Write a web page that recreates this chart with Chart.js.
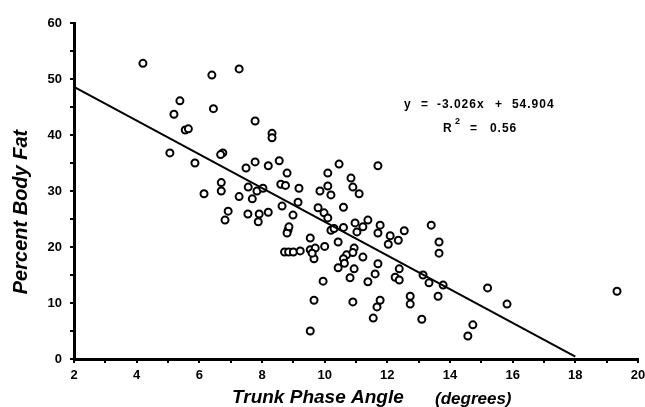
<!DOCTYPE html>
<html>
<head>
<meta charset="utf-8">
<script src="https://cdn.jsdelivr.net/npm/chart.js@4/dist/chart.umd.min.js"></script>
<style>
html,body{margin:0;padding:0;background:#fff;}
#c{display:block;}
</style>
</head>
<body>
<canvas id="c" width="645" height="407"></canvas>
<script>
// Trunk phase angle (degrees) for each subject
const phaseAngle = [
 4.2, 5.38, 5.19, 5.55, 5.65, 5.06, 5.86, 6.15, 6.4, 6.45,
 7.27, 7.78, 8.32, 8.32, 6.75, 6.68, 7.49, 7.78, 8.2, 8.55,
 8.8, 10.1, 10.46, 11.7, 10.84, 10.9, 11.1, 6.7, 6.7, 7.27,
 7.56, 7.84, 8.03, 8.6, 8.75, 9.18, 9.85, 10.1, 10.2, 7.69,
 6.92, 6.82, 7.55, 7.91, 8.2, 7.88, 8.64, 9.15, 8.99, 9.79,
 9.98, 10.6, 10.1, 10.2, 10.3, 8.83, 8.8, 9.54, 10.43, 10.6,
 10.97, 11.22, 11.38, 11.03, 11.77, 11.7, 12.09, 12.54, 12.35, 12.03,
 8.72, 8.85, 9.0, 9.22, 9.54, 9.7, 10.0, 9.66, 9.6, 10.7,
 10.6, 10.43, 10.94, 10.9, 11.22, 10.94, 10.81, 11.61, 11.7, 11.38,
 12.25, 12.38, 12.38, 9.95, 9.66, 10.9, 11.77, 11.67, 11.55, 9.54,
 12.73, 12.73, 13.4, 13.65, 13.65, 13.14, 13.33, 13.78, 13.62, 13.1,
 14.73, 14.57, 15.2, 15.82, 19.33, 10.63, 8.86
];
// Percent body fat for each subject
const bodyFat = [
 52.8, 46.1, 43.7, 40.9, 41.1, 36.8, 35.0, 29.5, 50.7, 44.7,
 51.8, 42.5, 40.3, 39.5, 36.8, 36.5, 34.1, 35.2, 34.5, 35.4,
 33.2, 33.2, 34.8, 34.5, 32.3, 30.7, 29.5, 31.5, 30.0, 29.0,
 30.7, 30.0, 30.5, 31.2, 31.0, 30.5, 30.0, 30.9, 29.3, 28.6,
 26.4, 24.8, 25.9, 25.9, 26.2, 24.5, 27.3, 28.0, 25.7, 27.0,
 26.1, 27.1, 25.2, 23.0, 23.3, 23.0, 22.5, 21.6, 20.9, 23.5,
 24.3, 23.6, 24.8, 22.7, 23.9, 22.5, 22.0, 22.9, 21.2, 20.5,
 19.1, 19.1, 19.1, 19.3, 19.5, 19.8, 20.1, 17.9, 18.9, 18.6,
 17.9, 16.3, 19.8, 19.0, 18.2, 16.1, 14.5, 15.2, 17.0, 13.8,
 14.6, 16.1, 14.1, 13.9, 10.5, 10.2, 10.5, 9.3, 7.3, 5.0,
 11.2, 9.8, 23.9, 20.9, 18.9, 15.0, 13.6, 13.2, 11.2, 7.1,
 6.1, 4.1, 12.7, 9.8, 12.1, 17.1, 23.6
];
// Regression line end points (y = -3.026x + 54.904)
const fitX = [2, 18];
const fitY = [48.6, 0.44];
const equationText = ['y', '=', '-3.026x', '+', '54.904'];
const r2Text = ['R', '2', '=', '0.56'];
const xTitle = 'Trunk Phase Angle';
const xUnit = '(degrees)';
const yTitle = 'Percent Body Fat';

const points = phaseAngle.map((x, i) => ({x: x, y: bodyFat[i]}));
const fitLine = fitX.map((x, i) => ({x: x, y: fitY[i]}));

const textPlugin = {
  id: 'texts',
  afterDraw(chart) {
    const ctx = chart.ctx;
    const xs = chart.scales.x, ys = chart.scales.y;
    ctx.save();
    ctx.fillStyle = '#000';
    // equation
    ctx.font = 'bold 12px "Liberation Sans", Arial, sans-serif';
    ctx.textBaseline = 'middle';
    ctx.textAlign = 'left';
    try { ctx.letterSpacing = '1px'; } catch (e) {}
    const ex = xs.getPixelForValue(12.53), ey = ys.getPixelForValue(45.5);
    const offs = [0, 17, 33, 91, 108];
    equationText.forEach((t, i) => ctx.fillText(t, ex + offs[i], ey));
    const ry = ey + 24;
    ctx.fillText(r2Text[0], ex + 39, ry);
    ctx.font = 'bold 9px "Liberation Sans", Arial, sans-serif';
    ctx.fillText(r2Text[1], ex + 51, ry - 7);
    ctx.font = 'bold 12px "Liberation Sans", Arial, sans-serif';
    ctx.fillText(r2Text[2], ex + 66, ry);
    ctx.fillText(r2Text[3], ex + 86, ry);
    try { ctx.letterSpacing = '0px'; } catch (e) {}
    // x title
    ctx.font = 'italic bold 19px "Liberation Sans", Arial, sans-serif';
    ctx.textAlign = 'left';
    ctx.fillText(xTitle, 232, 398);
    ctx.font = 'italic bold 17px "Liberation Sans", Arial, sans-serif';
    ctx.fillText(xUnit, 435, 399);
    // y title
    ctx.translate(21, 212);
    ctx.rotate(-Math.PI / 2);
    ctx.textAlign = 'center';
    ctx.font = 'italic bold 20px "Liberation Sans", Arial, sans-serif';
    ctx.fillText(yTitle, 0, 0);
    ctx.restore();
  }
};

new Chart(document.getElementById('c'), {
  type: 'scatter',
  data: {
    datasets: [
      {
        data: points,
        pointStyle: 'circle',
        pointRadius: 3.5,
        pointBorderWidth: 2,
        pointBackgroundColor: '#fff',
        pointBorderColor: '#000',
        order: 2
      },
      {
        type: 'line',
        data: fitLine,
        borderColor: '#000',
        borderWidth: 2,
        pointRadius: 0,
        fill: false,
        order: 1
      }
    ]
  },
  options: {
    responsive: false,
    animation: false,
    events: [],
    layout: {padding: {top: 23, right: 0, left: 0, bottom: 0}},
    plugins: {legend: {display: false}, tooltip: {enabled: false}},
    scales: {
      x: {
        type: 'linear', min: 2, max: 20,
        afterFit(s) { s.height = 48; s.paddingRight = 7; },
        ticks: {
          stepSize: 1, autoSkip: false, maxRotation: 0,
          color: '#000', padding: 5,
          font: {family: '"Liberation Sans", Arial, sans-serif', size: 13, weight: 'bold'},
          callback: v => (v % 2 === 0 ? String(v) : '')
        },
        grid: {drawOnChartArea: false, drawTicks: true, tickLength: 4, color: '#000', lineWidth: 2},
        border: {display: true, color: '#000', width: 3}
      },
      y: {
        min: 0, max: 60,
        afterFit(s) { s.width = 74; },
        ticks: {
          stepSize: 5, autoSkip: false,
          color: '#000', padding: 8,
          font: {family: '"Liberation Sans", Arial, sans-serif', size: 13, weight: 'bold'},
          callback: v => (v % 10 === 0 ? String(v) : '')
        },
        grid: {drawOnChartArea: false, drawTicks: true, tickLength: 4, color: '#000', lineWidth: 2},
        border: {display: true, color: '#000', width: 3}
      }
    }
  },
  plugins: [textPlugin]
});
</script>
</body>
</html>
